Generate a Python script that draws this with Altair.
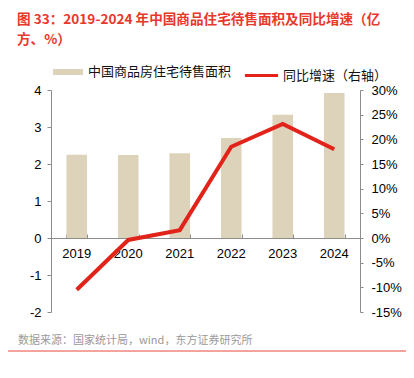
import altair as alt
import pandas as pd

years = ["2019", "2020", "2021", "2022", "2023", "2024"]
area = [2.25, 2.24, 2.29, 2.70, 3.33, 3.92]
growth = [-10.5, -0.4, 1.6, 18.5, 23.1, 18.0]
bar_name = "中国商品房住宅待售面积"
line_name = "同比增速（右轴）"
left_ticks = [-2, -1, 0, 1, 2, 3, 4]
right_ticks = [-15, -10, -5, 0, 5, 10, 15, 20, 25, 30]
title_lines = ["图 33：2019-2024 年中国商品住宅待售面积及同比增速（亿", "方、%）"]
source_text = "数据来源：国家统计局，wind，东方证券研究所"

df = pd.DataFrame({"year": years, "area": area, "growth": growth,
                   "s1": bar_name, "s2": line_name})

W, H = 309, 222
LEFT, TOP = 43, 82
ymin, ymax = -2, 4
zero_off = H * (0 - ymin) / (ymax - ymin)

CJK = "Noto Sans CJK SC"
LAT = "Liberation Sans"
AX = "#8c8c8c"
BAR = "#ddd3bb"
RED = "#e2231a"

xscale = alt.Scale(domain=years, paddingInner=0.6, paddingOuter=0.3)

bars = alt.Chart(df).mark_bar(color=BAR).encode(
    x=alt.X("year:N", scale=xscale, title=None,
            axis=alt.Axis(orient="bottom", offset=-zero_off, labelAngle=0, ticks=False,
                          domainColor=AX, labelFont=LAT, labelFontSize=13,
                          labelColor="#000", labelPadding=9)),
    y=alt.Y("area:Q", scale=alt.Scale(domain=[ymin, ymax], nice=False, zero=False), title=None,
            axis=alt.Axis(values=left_ticks, orient="left", grid=False, domainColor=AX,
                          tickColor=AX, tickSize=4, labelFont=LAT, labelFontSize=13,
                          labelColor="#000", labelPadding=6,
                          labelExpr="'' + datum.value")),
    fill=alt.Fill("s1:N", scale=alt.Scale(range=[BAR]), title=None,
                  legend=alt.Legend(orient="none", legendX=2, legendY=-33, padding=0,
                                    symbolType="M-1,-0.2L1,-0.2L1,0.2L-1,0.2Z",
                                    symbolSize=900, symbolStrokeWidth=0,
                                    labelFont=CJK, labelFontSize=13, labelColor="#111",
                                    labelOffset=5)),
)

line = alt.Chart(df).mark_line(strokeWidth=4).encode(
    x=alt.X("year:N", scale=xscale, title=None,
            axis=alt.Axis(orient="top", offset=-(H - zero_off), labels=False, domain=False,
                          ticks=True, tickBand="extent", tickSize=4, tickColor=AX)),
    y=alt.Y("growth:Q", scale=alt.Scale(domain=[-15, 30], nice=False, zero=False), title=None,
            axis=alt.Axis(values=right_ticks, orient="right", grid=False, domainColor=AX,
                          tickColor=AX, tickSize=3, labelFont=LAT, labelFontSize=13,
                          labelColor="#000", labelPadding=8,
                          labelExpr="datum.value + '%'")),
    stroke=alt.Stroke("s2:N", scale=alt.Scale(range=[RED]), title=None,
                      legend=alt.Legend(orient="none", legendX=192, legendY=-33, padding=0,
                                        symbolType="stroke", symbolSize=1100,
                                        symbolStrokeWidth=3,
                                        labelFont=CJK, labelFontSize=13, labelColor="#111",
                                        labelOffset=3)),
)

one = pd.DataFrame({"a": [0]})
title = alt.Chart(one).mark_text(
    text=title_lines, align="left", baseline="top", font=CJK, fontSize=13.6,
    fontWeight="bold", color="#e8382b", lineHeight=20
).encode(x=alt.value(-34), y=alt.value(-77))

source = alt.Chart(one).mark_text(
    text=source_text, align="left", baseline="middle", font=CJK, fontSize=11, color="#9a9a9a"
).encode(x=alt.value(-33), y=alt.value(H + 29))

bottom_rule = alt.Chart(one).mark_rule(color="#e8463a", strokeWidth=1).encode(
    x=alt.value(-43), x2=alt.value(W + 60), y=alt.value(H + 39))

chart = alt.layer(bars, line, title, source, bottom_rule).resolve_scale(
    y="independent", fill="independent", stroke="independent"
).resolve_axis(x="independent").properties(
    width=W, height=H,
    autosize=alt.AutoSizeParams(type="none"),
    padding={"left": LEFT, "top": TOP, "right": 46, "bottom": 45},
).configure_view(stroke=None)

chart.save("out.html", embed_options={"renderer": "svg", "actions": False})
